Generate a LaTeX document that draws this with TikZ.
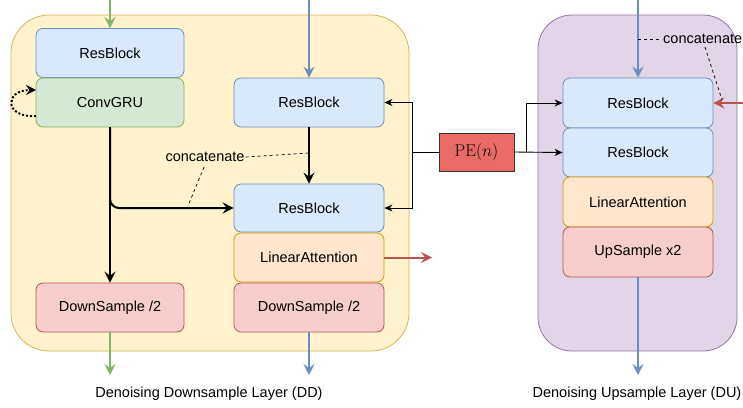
\documentclass[tikz,border=0pt]{standalone}
\usepackage{fontspec}
\setmainfont{Liberation Sans}
\setmathrm{Latin Modern Roman}
\usetikzlibrary{arrows.meta}
\definecolor{bfill}{HTML}{DAE8FC}\definecolor{bline}{HTML}{6C8EBF}
\definecolor{gfill}{HTML}{D5E8D4}\definecolor{gline}{HTML}{82B366}
\definecolor{ofill}{HTML}{FFE6CC}\definecolor{oline}{HTML}{D79B00}
\definecolor{rfill}{HTML}{F8CECC}\definecolor{rline}{HTML}{B85450}
\definecolor{yfill}{HTML}{FFF2CC}\definecolor{yline}{HTML}{D6B656}
\definecolor{pfill}{HTML}{E1D5E7}\definecolor{pline}{HTML}{9673A6}
\definecolor{pefill}{HTML}{EA6B66}
\tikzset{
  blk/.style={draw, rounded corners=7pt, line width=0.8pt, minimum width=148pt, minimum height=49pt, inner sep=0pt, font=\fontsize{14.5}{16}\selectfont},
  bluebox/.style={blk, fill=bfill, draw=bline},
  greenbox/.style={blk, fill=gfill, draw=gline},
  orangebox/.style={blk, fill=ofill, draw=oline},
  redbox/.style={blk, fill=rfill, draw=rline},
  container/.style={line width=0.8pt, rounded corners=38pt},
  tip/.style={-{Stealth[length=11pt,width=11pt,inset=4pt]}},
  thk/.style={line width=2pt},
  thin/.style={line width=0.9pt, -{Stealth[length=8pt,width=7pt,inset=2.5pt]}},
  lbl/.style={font=\fontsize{14.5}{16}\selectfont, inner sep=1pt},
}
\begin{document}
\begin{tikzpicture}[x=1pt,y=-1pt]
\useasboundingbox (0,0) rectangle (743,407);
% containers
\draw[container, fill=yfill, draw=yline] (11,15) rectangle (409,351);
\draw[container, fill=pfill, draw=pline, rounded corners=34pt] (538,15) rectangle (737,351);
% left column
\node[bluebox] (ra) at (110,53) {ResBlock};
\node[greenbox] (gru) at (110,102.5) {ConvGRU};
\node[redbox] (dl) at (110,307.5) {DownSample /2};
% middle column
\node[bluebox, minimum width=150pt] (rb1) at (309,102.5) {ResBlock};
\node[bluebox, minimum width=150pt, minimum height=48pt] (rb2) at (309,208) {ResBlock};
\node[orangebox, minimum width=150pt] (la) at (309,257.5) {LinearAttention};
\node[redbox, minimum width=150pt] (dm) at (309,307.5) {DownSample /2};
% right column
\node[bluebox, minimum width=150pt, minimum height=50pt] (u1) at (638,103) {ResBlock};
\node[bluebox, minimum width=150pt] (u2) at (638,152.5) {ResBlock};
\node[orangebox, minimum width=150pt, minimum height=50pt] (ula) at (638,202) {LinearAttention};
\node[redbox, minimum width=150pt, minimum height=50pt] (up) at (638,252) {UpSample x2};
% PE
\node[draw=black!80, fill=pefill, line width=0.8pt, minimum width=75pt, minimum height=38pt, inner sep=0pt, font=\fontsize{17}{19}\selectfont] (pe) at (476.5,152) {$\mathrm{PE}(n)$};
% coordinates
\coordinate (gin) at (110,0);
\coordinate (gout) at (110,375);
\coordinate (bin1) at (309,0);
\coordinate (bout1) at (309,375);
\coordinate (bin2) at (638,0);
\coordinate (bout2) at (638,375);
\coordinate (rout) at (432,257.5);
\coordinate (rin) at (743,103);
\coordinate (splitL) at (412,152);
\coordinate (splitR) at (526,152);
% colored arrows
\draw[thk, gline, tip] (gin) -- (ra.north);
\draw[thk, gline, tip] (dl.south) -- (gout);
\draw[thk, bline, tip] (bin1) -- (rb1.north);
\draw[thk, bline, tip] (dm.south) -- (bout1);
\draw[thk, bline, tip] (bin2) -- (u1.north);
\draw[thk, bline, tip] (up.south) -- (bout2);
\draw[thk, rline, tip] (la.east) -- (rout);
\draw[thk, rline, tip] (rin) -- (u1.east);
% black thick
\draw[thk, tip] (gru.south) -- (dl.north);
\draw[thk, tip, rounded corners=9pt] (gru.south) -- (110,208) -- (rb2.west);
\draw[thk, tip] (rb1.south) -- (rb2.north);
% feedback loop
\draw[line width=2pt, dotted, -{Stealth[length=10pt,width=10pt,inset=3.5pt]}] (36,116) .. controls (4,118) and (4,90) .. (36,90);
% PE connections
\draw[thin] (pe.west) -- (splitL) |- (rb1.east);
\draw[thin] (splitL) |- (rb2.east);
\draw[thin] (pe.east) -- (u2.west);
\draw[thin] (splitR) |- (u1.west);
% concatenate labels
\node[lbl] (c1) at (205,157) {concatenate};
\coordinate (c1a) at (309,153);
\coordinate (c1b) at (188,206);
\draw[dashed, line width=0.7pt] (c1.east) -- (c1a);
\draw[dashed, line width=0.7pt] (204,167) -- (c1b);
\node[lbl, anchor=west] (c2) at (662,39) {concatenate};
\coordinate (c2a) at (638,39);
\coordinate (c2b) at (722,100);
\draw[dashed, line width=0.7pt] (c2a) -- (c2.west);
\draw[dashed, line width=0.7pt] (705,47) -- (c2b);
% captions
\node[lbl] (cap1) at (209,394) {Denoising Downsample Layer (DD)};
\node[lbl] (cap2) at (637,394) {Denoising Upsample Layer (DU)};
\end{tikzpicture}
\end{document}
